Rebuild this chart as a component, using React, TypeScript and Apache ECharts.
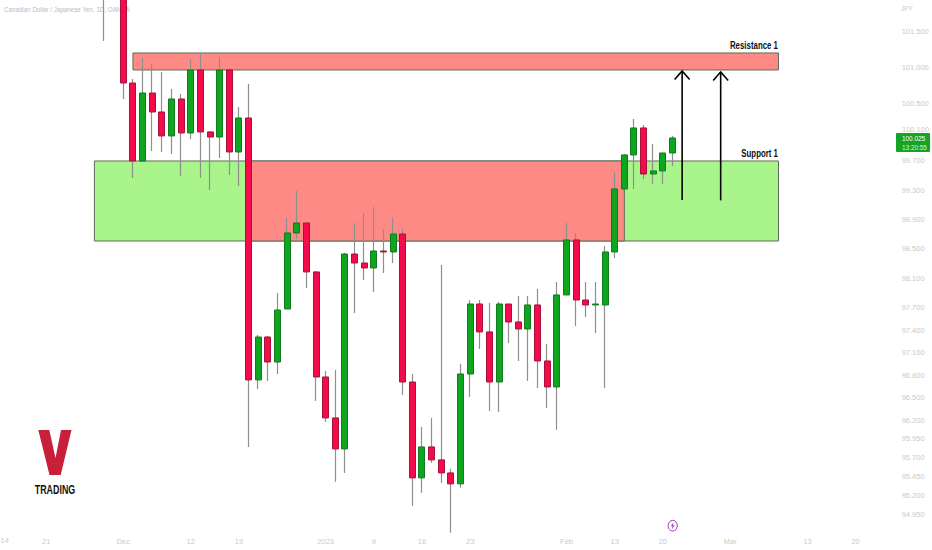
import React, { useEffect, useRef } from "react";
import * as echarts from "echarts";

const pageTitle = "Canadian Dollar / Japanese Yen, 1D, OANDA";
const font = "'Liberation Sans', Arial, sans-serif";

// Category slots (one per trading day); only some carry a date label.
const slotCount = 92;
const firstCandleSlot = 11;
const dateSlots = [5, 13, 20, 25, 34, 39, 44, 49, 59, 64, 69, 76, 84, 89];
const dateTexts = ["21", "Dec", "12", "19", "2023", "9", "16", "23", "Feb", "13", "20", "Mar", "13", "20"];
const edgeDate = "14";

const priceTicks = [94.95, 95.2, 95.45, 95.7, 95.95, 96.2, 96.5, 96.8, 97.1, 97.4, 97.7, 98.1, 98.5, 98.9, 99.3, 99.7, 100.5, 101, 101.5];
const hiddenTick = "100.100";

const opens = [102.3, 102.5, 102.3, 100.778, 99.7, 100.639, 100.376, 100.045, 100.556, 100.086, 100.959, 100.1, 100.03, 100.959, 99.824, 100.293, 96.735, 97.309, 96.974, 97.686, 98.715, 98.851, 98.186, 96.774, 96.229, 95.819, 98.429, 98.307, 98.24, 98.47, 98.457, 98.701, 96.707, 95.437, 95.845, 95.674, 95.502, 95.358, 96.814, 97.753, 97.377, 96.707, 97.753, 97.511, 97.417, 97.74, 96.988, 96.641, 97.875, 98.62, 97.807, 97.74, 97.74, 98.457, 99.316, 99.783, 100.155, 99.521, 99.563, 99.81];
const closes = [102.05, 102.3, 100.778, 99.7, 100.639, 100.376, 100.045, 100.556, 100.086, 100.959, 100.1, 100.03, 100.959, 99.824, 100.293, 96.735, 97.309, 96.974, 97.672, 98.715, 98.851, 98.186, 96.774, 96.229, 95.819, 98.429, 98.307, 98.24, 98.47, 98.457, 98.701, 96.707, 95.437, 95.845, 95.674, 95.502, 95.358, 96.814, 97.753, 97.377, 96.707, 97.753, 97.511, 97.417, 97.74, 96.988, 96.641, 97.875, 98.62, 97.807, 97.74, 97.753, 98.457, 99.316, 99.783, 100.155, 99.521, 99.563, 99.81, 100.017];
const lows = [101.364, 102.1, 100.556, 99.466, 99.7, 99.838, 99.824, 99.796, 99.494, 100.003, 99.466, 99.302, 99.741, 99.508, 99.357, 95.845, 96.614, 96.721, 96.814, 97.686, 98.633, 97.969, 96.455, 96.176, 95.384, 95.502, 97.632, 98.077, 97.915, 98.172, 98.307, 96.534, 95.069, 95.24, 95.634, 95.371, 94.717, 95.306, 96.508, 97.149, 96.322, 96.309, 97.229, 96.988, 96.721, 96.628, 96.362, 96.07, 97.875, 97.457, 97.578, 97.363, 96.628, 98.375, 99.316, 99.316, 99.453, 99.385, 99.385, 99.631];
const highs = [102.4, 102.7, 102.5, 100.834, 101.126, 101.043, 100.931, 100.695, 100.625, 101.112, 101.196, 100.113, 101.14, 100.987, 100.445, 100.765, 97.336, 97.323, 97.902, 98.919, 99.288, 98.851, 98.199, 96.854, 96.868, 98.443, 98.851, 98.988, 99.07, 98.769, 98.933, 98.769, 96.814, 96.11, 96.229, 98.28, 95.555, 96.948, 97.807, 97.807, 97.767, 97.78, 97.753, 97.861, 97.861, 97.956, 97.216, 98.05, 98.851, 98.715, 98.05, 98.05, 98.538, 99.549, 99.796, 100.279, 100.196, 99.934, 99.81, 100.045];

// Zones: [start slot, end slot, top price, bottom price]
const supportZone = [10, 81, 99.7, 98.606];
const flippedZone = [26, 65, 99.7, 98.606];
const resistanceZone = [14, 81, 101.196, 100.959];
// Arrows: [slot, tail price, tip price]
const arrows = [
  [71, 99.165, 100.945],
  [75, 99.16, 100.931],
];

const lastPrice = "100.025";
const countdown = "13:20:55";

const GREEN = "#0ea51f";
const RED = "#f50a4b";
const GREEN_BORDER = "#127a20";
const RED_BORDER = "#a5123c";
const LABEL = "#cacaca";
const WICK = "#8f8f8f";

const pad = (n: number) => new Array(n).fill("-");
const candleRows = opens.map((o, i) => [o, closes[i], lows[i], highs[i]]);
const bodyRows = opens.map((o, i) => [o, closes[i], Math.min(o, closes[i]), Math.max(o, closes[i])]);
const categories = new Array(slotCount).fill("").map((_, i) => {
  const at = dateSlots.indexOf(i);
  return at >= 0 ? dateTexts[at] : "";
});

const zoneArea = (z: number[], color: string) => [
  {
    xAxis: z[0],
    yAxis: z[2],
    itemStyle: { color, opacity: 1, borderColor: "#5f6b5c", borderWidth: 1 },
  },
  { xAxis: z[1], yAxis: z[3] },
];

export default function App() {
  const ref = useRef<HTMLDivElement>(null);
  useEffect(() => {
    document.body.style.margin = "0";
    document.body.style.background = "#fff";
    const chart = echarts.init(ref.current!, undefined, { renderer: "svg" });
    chart.setOption({
      animation: false,
      backgroundColor: "#ffffff",
      grid: { left: -6.77, top: 0, width: 886.42, height: 535, containLabel: false, outerBoundsMode: "none" },
      xAxis: {
        type: "category",
        data: categories,
        boundaryGap: true,
        axisLine: { show: false },
        axisTick: { show: false },
        splitLine: { show: false },
        axisLabel: {
          interval: 0,
          hideOverlap: false,
          color: LABEL,
          fontSize: 7.5,
          fontFamily: font,
          margin: 2,
        },
      },
      yAxis: {
        type: "log",
        logBase: 10,
        position: "right",
        min: 94.688,
        max: 101.938,
        axisLine: { show: false },
        axisTick: { show: false },
        splitLine: { show: false },
        minorTick: { show: false },
        minorSplitLine: { show: false },
        axisLabel: {
          customValues: priceTicks,
          formatter: (v: number) => Number(v).toFixed(3),
          color: LABEL,
          fontSize: 7.5,
          fontFamily: font,
          margin: 22,
          hideOverlap: false,
        },
      },
      series: [
        {
          type: "candlestick",
          name: "wicks",
          z: 3,
          barWidth: 1,
          data: [...pad(firstCandleSlot), ...candleRows],
          itemStyle: {
            color: WICK,
            color0: WICK,
            borderColor: WICK,
            borderColor0: WICK,
            borderWidth: 1.2,
          },
          markArea: {
            silent: true,
            z: 1,
            label: { show: false },
            data: [
              zoneArea(supportZone, "#a9f58b"),
              zoneArea(flippedZone, "#fd8a84"),
              zoneArea(resistanceZone, "#fd8a84"),
            ],
          },
        },
        {
          type: "candlestick",
          name: "bodies",
          z: 4,
          barWidth: 6.5,
          data: [...pad(firstCandleSlot), ...bodyRows],
          itemStyle: {
            color: GREEN,
            color0: RED,
            borderColor: GREEN_BORDER,
            borderColor0: RED_BORDER,
            borderWidth: 1,
          },
        },
        {
          type: "custom",
          name: "arrows",
          z: 5,
          clip: false,
          data: arrows,
          encode: { x: 0, y: [1, 2] },
          renderItem: (_p: any, api: any) => {
            const tail = api.coord([api.value(0), api.value(1)]);
            const tip = api.coord([api.value(0), api.value(2)]);
            const style = { stroke: "#000", lineWidth: 1.6, fill: "none" };
            return {
              type: "group",
              children: [
                { type: "line", shape: { x1: tail[0], y1: tail[1], x2: tip[0], y2: tip[1] }, style },
                {
                  type: "polyline",
                  shape: { points: [[tip[0] - 7.5, tip[1] + 8.5], [tip[0], tip[1]], [tip[0] + 7.5, tip[1] + 8.5]] },
                  style,
                },
              ],
            };
          },
        },
      ],
      graphic: [
        { type: "text", z: 0, x: 4, y: 6, scaleX: 0.78, style: { text: pageTitle, fill: "#bdbdbd", font: `8px ${font}` } },
        { type: "text", z: 0, x: 901, y: 4, scaleX: 0.8, style: { text: "JPY", fill: LABEL, font: `8px ${font}` } },
        { type: "text", z: 0, x: 902, y: 125.5, style: { text: hiddenTick, fill: LABEL, font: `7.5px ${font}` } },
        { type: "text", z: 0, x: 0.5, y: 536.5, style: { text: edgeDate, fill: LABEL, font: `7.5px ${font}` } },
        { type: "text", z: 6, x: 778, y: 40, scaleX: 0.75, style: { text: "Resistance 1", fill: "#111", align: "right", font: `bold 10.5px ${font}` } },
        { type: "text", z: 6, x: 778, y: 148, scaleX: 0.75, style: { text: "Support 1", fill: "#111", align: "right", font: `bold 10.5px ${font}` } },
        { type: "polygon", z: 6, shape: { points: [[38.3, 430], [49.3, 430], [55.5, 458], [61, 430], [71.5, 430], [60.7, 475], [49.5, 475]] }, style: { fill: "#c8203a" } },
        { type: "text", z: 6, x: 55, y: 483, scaleX: 0.74, style: { text: "TRADING", fill: "#111", align: "center", font: `bold 12px ${font}` } },
        { type: "rect", z: 7, shape: { x: 896, y: 133, width: 34, height: 19, r: 1 }, style: { fill: "#17a325" } },
        { type: "text", z: 8, x: 902, y: 134, scaleX: 0.8, style: { text: lastPrice, fill: "#fff", font: `8px ${font}` } },
        { type: "text", z: 8, x: 902, y: 143, scaleX: 0.8, style: { text: countdown, fill: "#d8f2da", font: `8px ${font}` } },
        { type: "ellipse", z: 6, shape: { cx: 672.7, cy: 525.7, rx: 4.6, ry: 5.4 }, style: { fill: "#fff", stroke: "#9c3fb5", lineWidth: 1 } },
        { type: "polygon", z: 7, shape: { points: [[673.6, 522.2], [670.8, 526.2], [672.5, 526.2], [671.8, 529.2], [674.6, 525.2], [672.9, 525.2]] }, style: { fill: "#9c3fb5" } },
      ],
    });
    return () => chart.dispose();
  }, []);
  return <div ref={ref} style={{ width: 932, height: 550 }} />;
}
